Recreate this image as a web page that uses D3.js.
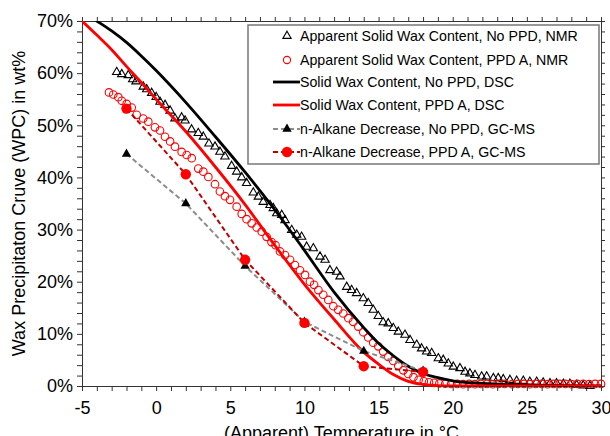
<!DOCTYPE html>
<html>
<head>
<meta charset="utf-8">
<script src="https://cdn.jsdelivr.net/npm/d3@7"></script>
<style>
  body { margin: 0; background: #fff; }
  svg { font-family: "Liberation Sans", Arial, sans-serif; }
</style>
</head>
<body>
<svg></svg>
<script>
// NMR, no PPD (open triangles)
var tempNoPpdNmr = [-2.66,-2.32,-1.88,-1.58,-1.36,-0.87,-0.64,-0.3,0.0,0.26,0.6,0.94,1.27,1.72,1.95,2.39,2.84,3.18,3.56,3.97,4.3,4.64,5.09,5.43,5.77,6.1,6.55,6.89,7.22,7.68,7.9,8.13,8.47,8.69,9.14,9.48,9.81,10.15,10.6,11.05,11.39,11.72,12.17,12.4,12.85,13.18,13.52,13.97,14.3,14.64,14.98,15.31,15.65,15.99,16.33,16.78,17.12,17.57,17.9,18.24,18.58,19.03,19.36,19.7,20.04,20.49,20.83,21.16,21.5,21.95,22.29,22.74,23.07,23.41,23.86,24.31,24.76,25.2,25.66,26.1,26.56,27.0,27.46,27.9,28.36,28.8,29.25];
var wpcNoPpdNmr = [60.2,59.8,59.6,58.8,58.4,57.4,56.9,56.2,55.4,54.5,53.9,52.8,51.3,51.5,50.9,49.2,48.5,47.8,46.5,45.9,44.9,44.0,42.2,41.1,40.0,38.9,37.1,36.3,35.3,34.7,34.1,33.1,32.8,31.8,29.9,29.0,28.6,26.7,26.4,24.8,24.2,22.2,21.9,21.0,19.0,18.4,17.8,16.8,15.9,14.6,13.4,12.2,12.0,11.1,10.4,9.8,8.8,7.9,7.2,6.6,6.3,5.3,5.0,4.3,3.7,3.4,2.7,2.4,2.1,1.8,1.8,1.5,1.5,1.3,1.15,1.0,1.0,0.8,0.8,0.65,0.5,0.5,0.4,0.4,0.2,0.1,0.0];

// NMR, PPD A (open circles)
var tempPpdNmr = [-3.18,-2.89,-2.55,-2.32,-1.99,-1.65,-1.31,-0.87,-0.53,-0.08,0.26,0.6,0.94,1.27,1.72,2.06,2.4,2.84,3.18,3.52,3.97,4.3,4.64,4.98,5.43,5.77,6.1,6.44,6.78,7.12,7.45,7.78,8.05,8.35,8.69,9.03,9.36,9.7,10.04,10.37,10.65,10.94,11.27,11.61,11.95,12.28,12.62,12.96,13.29,13.63,13.97,14.3,14.64,14.98,15.31,15.65,15.99,16.33,16.67,17.0,17.35,17.7,18.05,18.4,18.75,19.1,19.5,19.9,20.3,20.7,21.1,21.5,21.9,22.3,22.7,23.1,23.5,24.0,24.4,24.8,25.2,25.6,26.0,26.4,26.8,27.2,27.6,28.0,28.4,28.8,29.2,29.6,30.0];
var wpcPpdNmr = [56.3,55.9,55.4,54.7,54.1,53.4,52.0,51.3,50.7,49.6,49.0,47.8,46.9,45.9,44.9,44.3,43.7,41.7,41.1,40.1,38.7,37.3,36.4,35.7,34.4,33.0,32.0,31.2,30.4,29.6,28.6,27.6,27.0,25.8,25.1,24.2,23.2,22.2,21.3,20.0,19.4,18.4,17.5,16.5,15.3,14.6,13.9,13.0,12.3,11.4,10.3,9.3,8.3,7.6,6.6,5.6,4.8,3.9,3.0,2.3,1.7,1.2,0.9,0.7,0.6,0.5,0.45,0.4,0.4,0.35,0.4,0.35,0.4,0.4,0.35,0.4,0.4,0.35,0.4,0.4,0.35,0.4,0.4,0.35,0.4,0.4,0.4,0.35,0.4,0.4,0.35,0.4,0.4];

// DSC curves
var tempDsc = [-5,-4,-3,-2,-1,0,2,4,6,8,10,12,14,15,16,17,18,19,20,22,25,30];
var wpcNoPpdDsc = [71.8,70,68.1,65.9,63.3,60.5,54.4,47.8,41.0,33.8,26.0,18.0,11.2,8.2,5.8,3.8,2.4,1.6,1.0,0.5,0.2,0.0];
var wpcPpdDsc = [70,67.3,64.5,61.3,58.2,55.0,48.8,42.0,34.8,27.0,19.5,12.8,6.5,4.2,2.2,0.9,0.3,0.05,0,0,0,0];

// GC-MS n-alkane decrease
var tempGcms = [-2,2,6,10,14,18];
var wpcNoPpdGcms = [44.5,35.0,23.0,12.3,6.7,2.9];
var wpcPpdGcms = [53.2,40.6,24.2,12.1,3.8,2.7];

var legendLabels = [
  "Apparent Solid Wax Content, No PPD, NMR",
  "Apparent Solid Wax Content, PPD A, NMR",
  "Solid Wax Content, No PPD, DSC",
  "Solid Wax Content, PPD A, DSC",
  "n-Alkane Decrease, No PPD, GC-MS",
  "n-Alkane Decrease, PPD A, GC-MS"
];

var svgWidth = 610, svgHeight = 436;
var plotLeft = 82, plotRight = 601, plotTop = 21, plotBottom = 386;

var svg = d3.select("svg")
  .attr("width", svgWidth)
  .attr("height", svgHeight);

var x = d3.scaleLinear().domain([-5, 30]).range([plotLeft, plotRight]);
var y = d3.scaleLinear().domain([0, 70]).range([plotBottom, plotTop]);

svg.append("clipPath").attr("id", "plot")
  .append("rect")
  .attr("x", plotLeft).attr("y", plotTop)
  .attr("width", plotRight - plotLeft).attr("height", plotBottom - plotTop);

function zip(xs, ys) {
  return xs.map(function(t, i) { return {t: t, v: ys[i]}; });
}

// axes, ticks outward on all four sides
var xTicks = d3.range(-5, 31, 1);
var yTicks = d3.range(0, 71, 2);

function styleAxis(g) {
  g.selectAll("path").attr("stroke", "#333").attr("stroke-width", 1);
  g.selectAll("line").attr("stroke", "#333");
  g.selectAll("text").attr("fill", "#000").attr("font-size", 18)
    .attr("font-family", "Liberation Sans, Arial, sans-serif");
}

svg.append("g")
  .attr("transform", "translate(0," + plotBottom + ")")
  .call(d3.axisBottom(x).tickValues(xTicks).tickSize(5).tickSizeOuter(0).tickPadding(10)
    .tickFormat(function(d) { return d % 5 === 0 ? d : ""; }))
  .call(styleAxis);

svg.append("g")
  .attr("transform", "translate(0," + plotTop + ")")
  .call(d3.axisTop(x).tickValues(xTicks).tickSize(4).tickSizeOuter(0).tickFormat(""))
  .call(styleAxis);

svg.append("g")
  .attr("transform", "translate(" + plotLeft + ",0)")
  .call(d3.axisLeft(y).tickValues(yTicks).tickSize(5).tickSizeOuter(0).tickPadding(4)
    .tickFormat(function(d) { return d % 10 === 0 ? d + "%" : ""; }))
  .call(styleAxis);

svg.append("g")
  .attr("transform", "translate(" + plotRight + ",0)")
  .call(d3.axisRight(y).tickValues(yTicks).tickSize(4).tickSizeOuter(0).tickFormat(""))
  .call(styleAxis);

// axis titles
svg.append("text")
  .attr("x", (plotLeft + plotRight) / 2)
  .attr("y", 439)
  .attr("text-anchor", "middle")
  .attr("font-size", 18)
  .text("(Apparent) Temperature in \u00B0C");

svg.append("text")
  .attr("transform", "translate(25," + (plotTop + plotBottom) / 2 + ") rotate(-90)")
  .attr("text-anchor", "middle")
  .attr("font-size", 18)
  .text("Wax Precipitaton Cruve (WPC) in wt%");

var plot = svg.append("g");

var smooth = d3.line()
  .x(function(d) { return x(d.t); })
  .y(function(d) { return y(d.v); })
  .curve(d3.curveMonotoneX);

var straight = d3.line()
  .x(function(d) { return x(d.t); })
  .y(function(d) { return y(d.v); });

var tri = d3.symbol().type(d3.symbolTriangle).size(30);
var triFilled = d3.symbol().type(d3.symbolTriangle).size(38);

// open triangles, no PPD NMR
plot.append("g").selectAll("path")
  .data(zip(tempNoPpdNmr, wpcNoPpdNmr))
  .enter().append("path")
  .attr("d", tri)
  .attr("transform", function(d) { return "translate(" + x(d.t) + "," + y(d.v) + ")"; })
  .attr("fill", "none")
  .attr("stroke", "#000")
  .attr("stroke-width", 1.1);

// open circles, PPD A NMR
plot.append("g").selectAll("circle")
  .data(zip(tempPpdNmr, wpcPpdNmr))
  .enter().append("circle")
  .attr("cx", function(d) { return x(d.t); })
  .attr("cy", function(d) { return y(d.v); })
  .attr("r", 3.8)
  .attr("fill", "none")
  .attr("stroke", "#ff0000")
  .attr("stroke-width", 1.1);

// DSC lines
plot.append("path")
  .datum(zip(tempDsc, wpcNoPpdDsc))
  .attr("clip-path", "url(#plot)")
  .attr("fill", "none")
  .attr("stroke", "#000")
  .attr("stroke-width", 2.8)
  .attr("d", smooth);

plot.append("path")
  .datum(zip(tempDsc, wpcPpdDsc))
  .attr("clip-path", "url(#plot)")
  .attr("fill", "none")
  .attr("stroke", "#ff0000")
  .attr("stroke-width", 2.8)
  .attr("d", smooth);

// GC-MS dashed
plot.append("path")
  .datum(zip(tempGcms, wpcNoPpdGcms))
  .attr("fill", "none")
  .attr("stroke", "#8c8c8c")
  .attr("stroke-width", 2)
  .attr("stroke-dasharray", "5,3")
  .attr("d", straight);

plot.append("g").selectAll("path")
  .data(zip(tempGcms, wpcNoPpdGcms))
  .enter().append("path")
  .attr("d", triFilled)
  .attr("transform", function(d) { return "translate(" + x(d.t) + "," + y(d.v) + ")"; })
  .attr("fill", "#000");

plot.append("path")
  .datum(zip(tempGcms, wpcPpdGcms))
  .attr("fill", "none")
  .attr("stroke", "#c00000")
  .attr("stroke-width", 2)
  .attr("stroke-dasharray", "5,3")
  .attr("d", straight);

plot.append("g").selectAll("circle")
  .data(zip(tempGcms, wpcPpdGcms))
  .enter().append("circle")
  .attr("cx", function(d) { return x(d.t); })
  .attr("cy", function(d) { return y(d.v); })
  .attr("r", 5.2)
  .attr("fill", "#ff0000");

// legend
var lg = svg.append("g").attr("transform", "translate(248,25)");
lg.append("rect")
  .attr("width", 351).attr("height", 139)
  .attr("fill", "#fff")
  .attr("stroke", "#777")
  .attr("stroke-width", 1.5);

var rows = [11, 35, 57, 80, 104, 127];
var sx = 39;
legendLabels.forEach(function(label, i) {
  var ry = rows[i];
  var row = lg.append("g").attr("transform", "translate(0," + ry + ")");
  if (i === 0) {
    row.append("path").attr("d", tri).attr("transform", "translate(" + sx + ",0)")
      .attr("fill", "none").attr("stroke", "#000").attr("stroke-width", 1.1);
  } else if (i === 1) {
    row.append("circle").attr("cx", sx).attr("r", 3.6)
      .attr("fill", "none").attr("stroke", "#ff0000").attr("stroke-width", 1.1);
  } else if (i === 2 || i === 3) {
    row.append("line").attr("x1", 25).attr("x2", 52)
      .attr("stroke", i === 2 ? "#000" : "#ff0000").attr("stroke-width", 2.8);
  } else {
    row.append("line").attr("x1", 25).attr("x2", 52)
      .attr("stroke", i === 4 ? "#8c8c8c" : "#c00000").attr("stroke-width", 2)
      .attr("stroke-dasharray", "5,3");
    if (i === 4) {
      row.append("path").attr("d", triFilled).attr("transform", "translate(" + sx + ",0)").attr("fill", "#000");
    } else {
      row.append("circle").attr("cx", sx).attr("r", 5.2).attr("fill", "#ff0000");
    }
  }
  row.append("text")
    .attr("x", 52)
    .attr("dy", "0.35em")
    .attr("font-size", 14.2)
    .text(label);
});
</script>
</body>
</html>
